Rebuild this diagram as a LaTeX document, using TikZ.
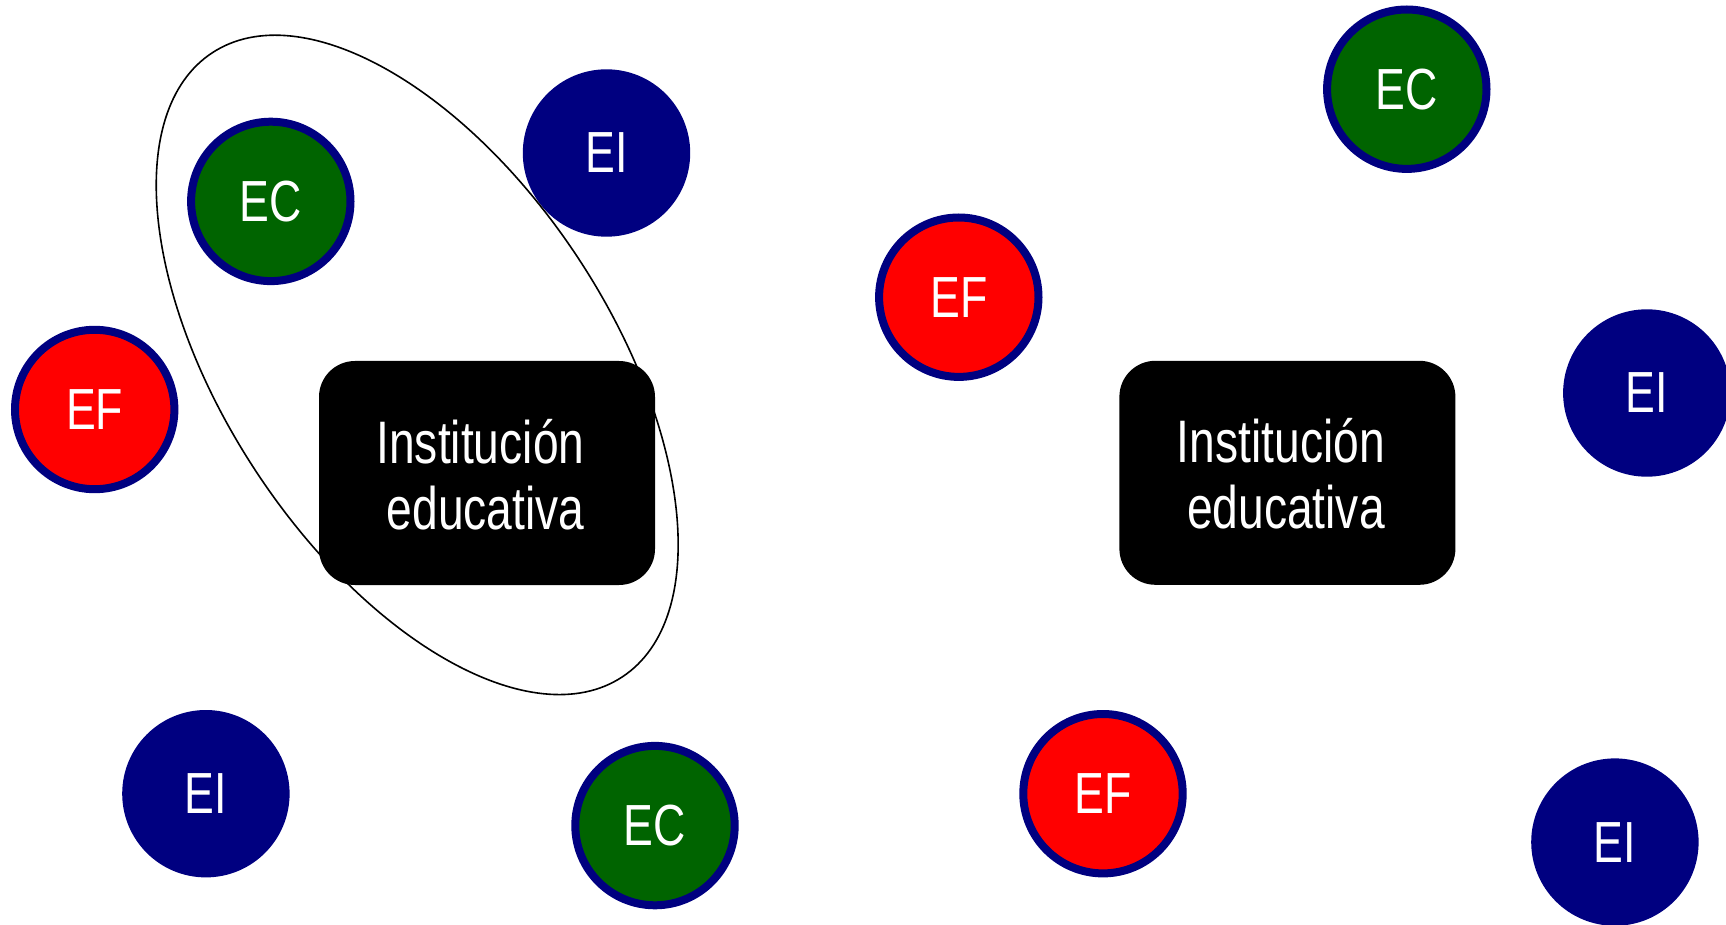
\documentclass[tikz,border=0pt]{standalone}
\usepackage{fontspec}
\setmainfont[FakeStretch=0.77]{Liberation Sans}
\usetikzlibrary{positioning,shapes}
\definecolor{navyblue}{RGB}{0,0,128}
\definecolor{ecgreen}{RGB}{0,100,0}
\definecolor{efred}{RGB}{255,0,0}
\newcommand{\instlabel}{\raisebox{-5pt}[\height][\depth]{\begin{tabular}{@{}r@{\hspace{6.6pt}}}Institución\\educativa\end{tabular}}}

\begin{document}
\begin{tikzpicture}[x=0.5pt,y=-0.5pt,
        agent/.style={circle,draw=navyblue,line width=4pt,minimum size=79.7pt,
                      inner sep=0pt,text=white,font=\fontsize{29}{32}\selectfont},
        ec/.style={agent,fill=ecgreen},
        ef/.style={agent,fill=efred},
        ei/.style={agent,fill=navyblue},
        inst/.style={rounded corners=18pt,fill=black,text=white,minimum width=168pt,
                     minimum height=112pt,inner sep=0pt,
                     font=\fontsize{30}{33}\selectfont}]

        \useasboundingbox (0,0) rectangle (1726,925);

        % left group
        \node[inst] (ie1) at (487,473) {\instlabel};
        \node[ec] (ec1) at (270.8,201.4) {EC};
        \node[ei] (ei1) at (606.5,153) {EI};
        \node[ef] (ef1) at (94.7,409.5) {EF};
        \node[ei] (ei2) at (205.9,793.7) {EI};
        \node[ec] (ec2) at (655,825.6) {EC};

        % right group
        \node[inst] (ie2) at (1287.4,472.8) {\instlabel};
        \node[ef] (ef2) at (958.8,297.2) {EF};
        \node[ec] (ec3) at (1406.8,89.2) {EC};
        \node[ei] (ei3) at (1646.8,393) {EI};
        \node[ef] (ef3) at (1103,793.7) {EF};
        \node[ei] (ei4) at (1614.9,842.1) {EI};

        \coordinate (grp) at (417.2,364.9);
        \draw[line width=0.8pt,rotate around={-56.7:(grp)}] (grp)
              ellipse [x radius=373.4,y radius=193.2];
      \end{tikzpicture}
\end{document}
